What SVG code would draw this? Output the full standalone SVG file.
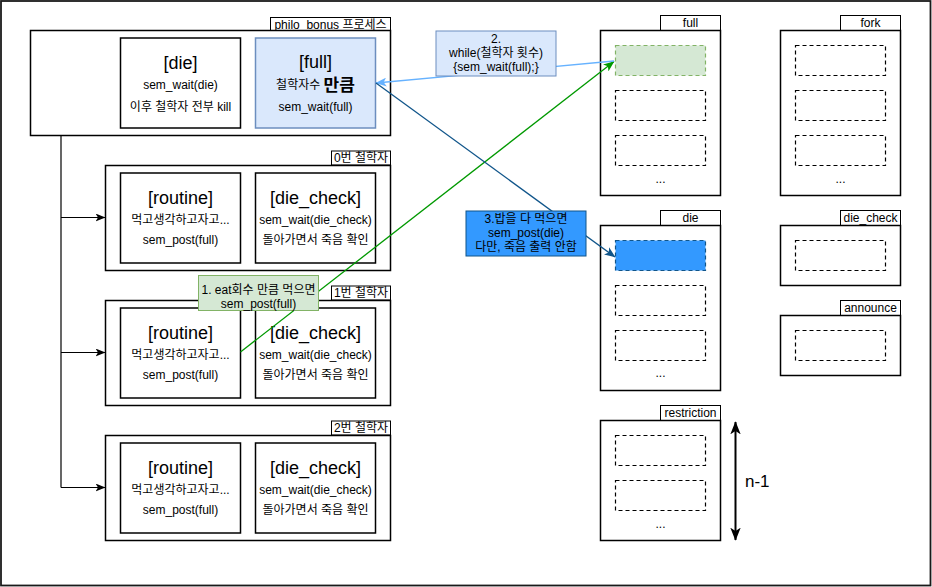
<svg xmlns="http://www.w3.org/2000/svg" width="932" height="587" viewBox="0 0 932 587">
<style>
text{font-family:"Liberation Sans","Noto Sans CJK KR",Arial,sans-serif;fill:#000;text-anchor:middle;dominant-baseline:central}
.s{font-size:12px}
.t{font-size:18px}
.box{fill:#fff;stroke:#000;stroke-width:1.5}
.tab{fill:#fff;stroke:#000;stroke-width:1}
.slot{fill:none;stroke:#000;stroke-width:1.2;stroke-dasharray:4 3}
.ln{fill:none;stroke:#000;stroke-width:1.2}
</style>
<defs>
<marker id="aBlack" viewBox="0 0 10 8" markerWidth="10" markerHeight="8" refX="9.5" refY="4" orient="auto" markerUnits="userSpaceOnUse"><path d="M0,0 L10,4 L0,8 L2.5,4 z" fill="#000"/></marker>
<marker id="aGreen" viewBox="0 0 10 8" markerWidth="11" markerHeight="9" refX="9.5" refY="4" orient="auto" markerUnits="userSpaceOnUse"><path d="M0,0 L10,4 L0,8 L2.5,4 z" fill="#009900"/></marker>
<marker id="aLight" viewBox="0 0 10 8" markerWidth="11" markerHeight="9" refX="9.5" refY="4" orient="auto" markerUnits="userSpaceOnUse"><path d="M0,0 L10,4 L0,8 L2.5,4 z" fill="#66B2FF"/></marker>
<marker id="aDark" viewBox="0 0 10 8" markerWidth="11" markerHeight="9" refX="9.5" refY="4" orient="auto" markerUnits="userSpaceOnUse"><path d="M0,0 L10,4 L0,8 L2.5,4 z" fill="#10558A"/></marker>
<marker id="aBig" viewBox="0 0 10 8" markerWidth="13" markerHeight="11" refX="9.5" refY="4" orient="auto-start-reverse" markerUnits="userSpaceOnUse"><path d="M0,0 L10,4 L0,8 L2.5,4 z" fill="#000"/></marker>
</defs>

<rect x="1" y="1" width="929.5" height="584.5" fill="#fff" stroke="#1a1a1a" stroke-width="1.8"/>

<g id="process">
<rect class="tab" x="270.5" y="17.5" width="120" height="13"/>
<text class="s" x="330.5" y="24.5">philo_bonus 프로세스</text>
<rect class="box" x="30.5" y="30.5" width="360" height="105"/>
</g>
<g id="die-box">
<rect class="box" x="120.5" y="38" width="120" height="90"/>
<text class="t" x="180.5" y="63">[die]</text>
<text class="s" x="180.5" y="85">sem_wait(die)</text>
<text class="s" x="180.5" y="107">이후 철학자 전부 kill</text>
</g>
<g id="full-box">
<rect x="255.5" y="38" width="120" height="90" fill="#dae8fc" stroke="#6c8ebf" stroke-width="1.5"/>
<text class="t" x="315.5" y="62">[full]</text>
<text class="s" x="315.5" y="85">철학자수 <tspan font-size="17" font-weight="bold">만큼</tspan></text>
<text class="s" x="315.5" y="107">sem_wait(full)</text>
</g>

<g id="philo0">
<rect class="tab" x="331.5" y="151" width="59" height="14"/>
<text class="s" x="361" y="158">0번 철학자</text>
<rect class="box" x="105.5" y="165.5" width="285" height="105"/>
<rect class="box" x="120.5" y="173" width="120" height="90"/>
<text class="t" x="180.5" y="198">[routine]</text>
<text class="s" x="180.5" y="220">먹고생각하고자고...</text>
<text class="s" x="180.5" y="240">sem_post(full)</text>
<rect class="box" x="255.5" y="173" width="120" height="90"/>
<text class="t" x="315.5" y="198">[die_check]</text>
<text class="s" x="315.5" y="220">sem_wait(die_check)</text>
<text class="s" x="315.5" y="240">돌아가면서 죽음 확인</text>
</g>
<g id="philo1">
<rect class="tab" x="331.5" y="286" width="59" height="14"/>
<text class="s" x="361" y="293">1번 철학자</text>
<rect class="box" x="105.5" y="300.5" width="285" height="105"/>
<rect class="box" x="120.5" y="308" width="120" height="90"/>
<text class="t" x="180.5" y="333">[routine]</text>
<text class="s" x="180.5" y="355">먹고생각하고자고...</text>
<text class="s" x="180.5" y="375">sem_post(full)</text>
<rect class="box" x="255.5" y="308" width="120" height="90"/>
<text class="t" x="315.5" y="333">[die_check]</text>
<text class="s" x="315.5" y="355">sem_wait(die_check)</text>
<text class="s" x="315.5" y="375">돌아가면서 죽음 확인</text>
</g>
<g id="philo2">
<rect class="tab" x="331.5" y="421" width="59" height="14"/>
<text class="s" x="361" y="428">2번 철학자</text>
<rect class="box" x="105.5" y="435.5" width="285" height="105"/>
<rect class="box" x="120.5" y="443" width="120" height="90"/>
<text class="t" x="180.5" y="468">[routine]</text>
<text class="s" x="180.5" y="490">먹고생각하고자고...</text>
<text class="s" x="180.5" y="510">sem_post(full)</text>
<rect class="box" x="255.5" y="443" width="120" height="90"/>
<text class="t" x="315.5" y="468">[die_check]</text>
<text class="s" x="315.5" y="490">sem_wait(die_check)</text>
<text class="s" x="315.5" y="510">돌아가면서 죽음 확인</text>
</g>

<g id="sem-full">
<rect class="tab" x="660.5" y="15.5" width="60" height="15"/>
<text class="s" x="690.5" y="23">full</text>
<rect class="box" x="600.5" y="30.5" width="120" height="165"/>
<rect x="615.5" y="45.5" width="90" height="30" fill="#d5e8d4" stroke="#82b366" stroke-width="1.2" stroke-dasharray="4 3"/>
<rect class="slot" x="615.5" y="90.5" width="90" height="30"/>
<rect class="slot" x="615.5" y="135.5" width="90" height="30"/>
<text class="s" x="660.5" y="179">...</text>
</g>
<g id="sem-fork">
<rect class="tab" x="840.5" y="15.5" width="60" height="15"/>
<text class="s" x="870.5" y="23">fork</text>
<rect class="box" x="780.5" y="30.5" width="120" height="165"/>
<rect class="slot" x="795.5" y="45.5" width="90" height="30"/>
<rect class="slot" x="795.5" y="90.5" width="90" height="30"/>
<rect class="slot" x="795.5" y="135.5" width="90" height="30"/>
<text class="s" x="840.5" y="179">...</text>
</g>
<g id="sem-die">
<rect class="tab" x="660.5" y="210.5" width="60" height="15"/>
<text class="s" x="690.5" y="218">die</text>
<rect class="box" x="600.5" y="225.5" width="120" height="165"/>
<rect x="615.5" y="240.5" width="90" height="30" fill="#3399ff" stroke="#10558A" stroke-width="1.2" stroke-dasharray="4 3"/>
<rect class="slot" x="615.5" y="285.5" width="90" height="30"/>
<rect class="slot" x="615.5" y="330.5" width="90" height="30"/>
<text class="s" x="660.5" y="373">...</text>
</g>
<g id="sem-die-check">
<rect class="tab" x="840.5" y="210.5" width="60" height="15"/>
<text class="s" x="870.5" y="218">die_check</text>
<rect class="box" x="780.5" y="225.5" width="120" height="60"/>
<rect class="slot" x="795.5" y="240.5" width="90" height="30"/>
</g>
<g id="sem-announce">
<rect class="tab" x="840.5" y="300.5" width="60" height="15"/>
<text class="s" x="870.5" y="308">announce</text>
<rect class="box" x="780.5" y="315.5" width="120" height="60"/>
<rect class="slot" x="795.5" y="330.5" width="90" height="30"/>
</g>
<g id="sem-restriction">
<rect class="tab" x="660.5" y="405.5" width="60" height="15"/>
<text class="s" x="690.5" y="413">restriction</text>
<rect class="box" x="600.5" y="420.5" width="120" height="120"/>
<rect class="slot" x="615.5" y="435.5" width="90" height="30"/>
<rect class="slot" x="615.5" y="480.5" width="90" height="30"/>
<text class="s" x="660.5" y="524">...</text>
</g>

<g id="connectors">
<path class="ln" d="M61,135.5 V487.5"/>
<path class="ln" d="M61,217.5 H105" marker-end="url(#aBlack)"/>
<path class="ln" d="M61,352.5 H105" marker-end="url(#aBlack)"/>
<path class="ln" d="M61,487.5 H105" marker-end="url(#aBlack)"/>
<path d="M240.5,352 L614,61.5" fill="none" stroke="#009900" stroke-width="1.3" marker-end="url(#aGreen)"/>
<path d="M614,61 L376,83" fill="none" stroke="#66B2FF" stroke-width="1.3" marker-end="url(#aLight)"/>
<path d="M376,83 L615,257" fill="none" stroke="#10558A" stroke-width="1.3" marker-end="url(#aDark)"/>
<path d="M735.5,422 V540" fill="none" stroke="#000" stroke-width="2" marker-start="url(#aBig)" marker-end="url(#aBig)"/>
</g>

<g id="label1">
<rect x="198.5" y="275.5" width="120" height="35" fill="#d5e8d4" stroke="#82b366" stroke-width="1"/>
<text class="s" x="258.5" y="289.5">1. eat회수 만큼 먹으면</text>
<text class="s" x="258.5" y="304">sem_post(full)</text>
</g>
<g id="label2">
<rect x="436" y="31" width="120" height="45" fill="#dae8fc" stroke="#6c8ebf" stroke-width="1"/>
<text class="s" x="496" y="38.5">2.</text>
<text class="s" x="496" y="53">while(철학자 횟수)</text>
<text class="s" x="496" y="67">{sem_wait(full);}</text>
</g>
<g id="label3">
<rect x="466" y="211" width="120" height="45" fill="#3399ff" stroke="#10558A" stroke-width="1"/>
<text class="s" x="526" y="218.5">3.밥을 다 먹으면</text>
<text class="s" x="526" y="233">sem_post(die)</text>
<text class="s" x="526" y="246.5">다만, 죽음 출력 안함</text>
</g>
<g id="n-label">
<text x="745" y="481" style="font-size:17px;text-anchor:start">n-1</text>
</g>
</svg>
